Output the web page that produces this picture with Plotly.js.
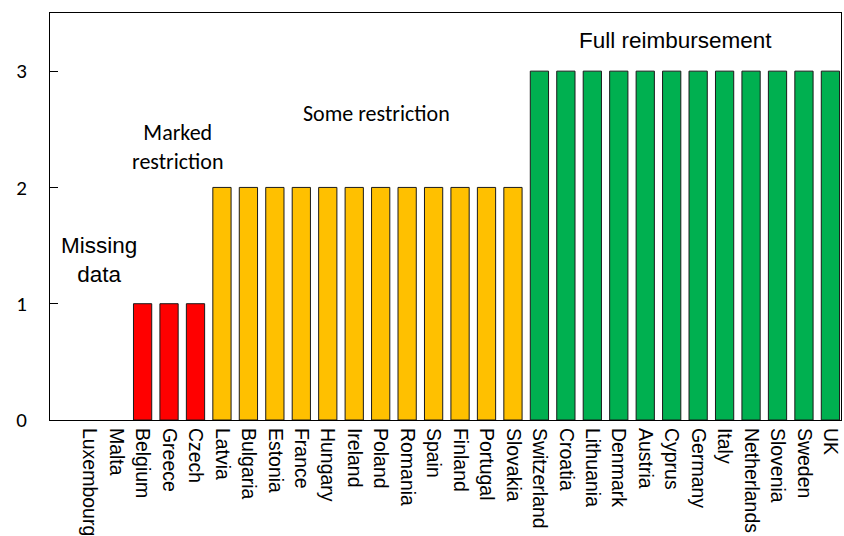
<!DOCTYPE html>
<html>
<head>
<meta charset="utf-8">
<script src="https://cdn.plot.ly/plotly-3.0.1.min.js"></script>
<style>html,body{margin:0;padding:0;background:#fff}#chart{width:844px;height:536px}</style>
</head>
<body>
<div id="chart"></div>
<script>
const countries = ["Luxembourg","Malta","Belgium","Greece","Czech","Latvia","Bulgaria","Estonia","France","Hungary","Ireland","Poland","Romania","Spain","Finland","Portugal","Slovakia","Switzerland","Croatia","Lithuania","Denmark","Austria","Cyprus","Germany","Italy","Netherlands","Slovenia","Sweden","UK"];
const scores = [null,null,1,1,1,2,2,2,2,2,2,2,2,2,2,2,2,3,3,3,3,3,3,3,3,3,3,3,3];
const levelColors = {1:"#FF0000", 2:"#FFC000", 3:"#00B050"};
const groupLabels = ["Missing<br>data","Marked<br>restriction","Some restriction","Full reimbursement"];

const calibriLike = "Carlito, Lato, 'Open Sans', sans-serif";
const arialLike = "'Liberation Sans', Arial, sans-serif";

const trace = {
  type: "bar",
  x: countries,
  y: scores,
  width: 0.69,
  marker: {
    color: scores.map(v => v == null ? "#ffffff" : levelColors[v]),
    line: {color: "#1a1a1a", width: 1}
  },
  hoverinfo: "x+y"
};

const layout = {
  width: 844, height: 536,
  margin: {l: 50, r: 3, t: 13, b: 116},
  paper_bgcolor: "#fff", plot_bgcolor: "#fff",
  showlegend: false,
  xaxis: {
    type: "category",
    range: [-1.5, 28.4],
    tickangle: 90,
    tickfont: {family: arialLike, size: 19.5, color: "#000"},
    ticklabelstandoff: 3,
    showline: true, linecolor: "#000", linewidth: 1, mirror: true,
    ticks: "", showgrid: false, zeroline: false
  },
  yaxis: {
    range: [0, 3.5],
    tickvals: [0,1,2,3],
    ticks: "inside", ticklen: 8, tickcolor: "#000",
    tickfont: {family: calibriLike, size: 21, color: "#000"},
    ticklabelstandoff: 18,
    showline: true, linecolor: "#000", linewidth: 1, mirror: true,
    showgrid: false, zeroline: false
  },
  annotations: [
    {text: groupLabels[0], x: 0.35, y: 1.38, xref: "x", yref: "y", showarrow: false, font: {family: arialLike, size: 22.5, color: "#000"}, align: "center"},
    {text: groupLabels[1], x: 3.35, y: 2.35, xref: "x", yref: "y", showarrow: false, font: {family: calibriLike, size: 22, color: "#000"}, align: "center"},
    {text: groupLabels[2], x: 10.85, y: 2.64, xref: "x", yref: "y", showarrow: false, font: {family: calibriLike, size: 22, color: "#000"}, align: "center"},
    {text: groupLabels[3], x: 22.15, y: 3.26, xref: "x", yref: "y", showarrow: false, font: {family: arialLike, size: 22.5, color: "#000"}, align: "center"}
  ]
};

Plotly.newPlot("chart", [trace], layout, {displayModeBar: false, staticPlot: true});
</script>
</body>
</html>
